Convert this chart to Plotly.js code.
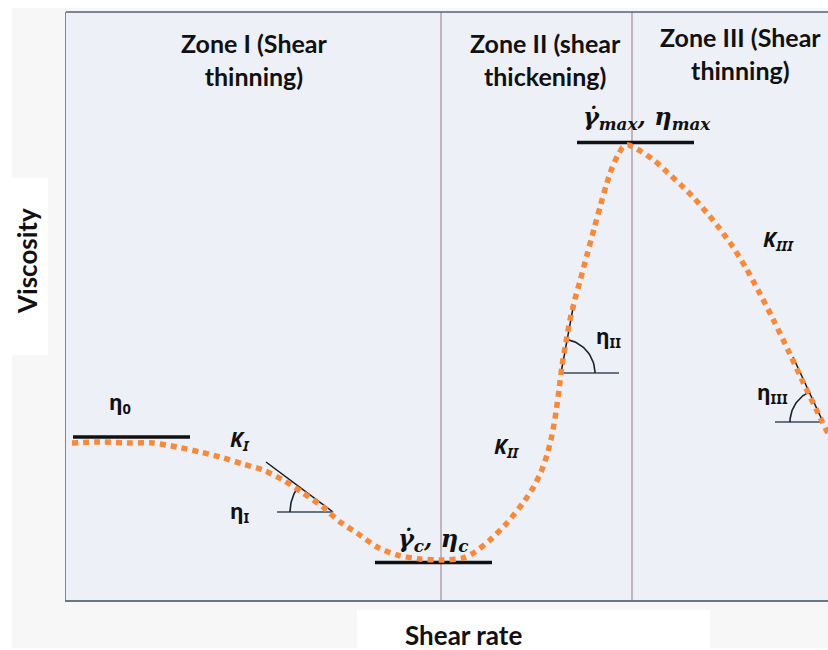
<!DOCTYPE html>
<html>
<head>
<meta charset="utf-8">
<script src="https://cdn.plot.ly/plotly-3.0.1.min.js"></script>
<style>html,body{margin:0;padding:0;background:#fff;}#chart{width:828px;height:650px;}</style>
</head>
<body>
<div id="chart"></div>
<script>
// Viscosity curve (arbitrary units): shear rate vs viscosity
const shearRate = [0.6, 3.4, 6.4, 8.7, 11.1, 13.4, 15.4, 17.7, 19.7, 21.7, 23.7, 25.7, 27.4, 29.1, 31.1, 33.1, 35.4, 37.7, 39.7, 40.9, 42.4, 44.1, 45.7, 46.7, 47.5, 48.1, 48.6, 49.0, 49.3, 49.6, 50.0, 50.4, 50.9, 51.4, 52.1, 52.8, 53.4, 54.0, 54.6, 55.2, 55.7, 56.2, 57.6, 58.9, 60.2, 61.5, 62.8, 64.1, 65.4, 66.7, 68.0, 69.2, 70.7, 72.2, 73.7, 75.2, 76.9];
const viscosity = [15.7, 15.8, 15.7, 15.7, 15.3, 14.8, 14.3, 13.6, 13.0, 12.0, 10.7, 9.3, 7.8, 6.7, 5.3, 4.5, 4.1, 4.0, 4.2, 4.8, 6.0, 7.7, 9.7, 11.2, 12.8, 14.5, 16.5, 18.8, 21.0, 23.4, 25.8, 28.0, 30.1, 31.9, 34.5, 37.1, 39.3, 41.4, 43.2, 44.5, 45.3, 45.5, 44.8, 43.9, 42.7, 41.5, 40.2, 38.7, 37.1, 35.3, 33.2, 31.0, 28.1, 25.0, 21.8, 18.7, 15.2];

// Zone boundaries (shear rate)
const zoneBounds = [37.5, 56.6];
const zoneLabels = ["Zone I (Shear<br>thinning)", "Zone II (shear<br>thickening)", "Zone III (Shear<br>thinning)"];
const zoneLabelX = [18.8, 47.9, 67.4];
const zoneLabelY = [54.05, 54.05, 54.65];

// Plateau markers: [x start, x end, level]
const plateauNames = ["η0", "γc", "γmax"];
const plateauX0 = [0.7, 30.9, 51.1];
const plateauX1 = [12.4, 42.6, 62.8];
const plateauY = [16.3, 3.75, 45.75];

// Slope triangles: vertex, tangent end, base end, arc radius
const slopeVertexX = [26.7, 49.5, 75.7];
const slopeVertexY = [8.8, 22.7, 17.8];
const slopeTanX = [20.0, 50.7, 72.7];
const slopeTanY = [13.8, 29.2, 24.3];
const slopeBaseX = [21.1, 55.3, 70.9];
const slopeArcR = [4.3, 3.4, 3.3];

// Text labels
const labelText = ["η<sub>0</sub>", "<i>K<sub>I</sub></i>", "η<sub>I</sub>", "<i>K<sub>II</sub></i>", "η<sub>II</sub>", "<i>K<sub>III</sub></i>", "η<sub>III</sub>"];
const labelX = [5.4, 17.4, 17.4, 44.1, 54.2, 71.2, 70.6];
const labelY = [19.7, 16.0, 8.8, 15.3, 26.3, 36.0, 20.7];
const mathText = ["<i>γ\u0307<sub>max</sub>, η<sub>max</sub></i>", "<i>γ\u0307<sub>c</sub>, η<sub>c</sub></i>"];
const mathX = [58.1, 36.7];
const mathY = [48.2, 6.0];

const traces = [];
for (let i = 0; i < plateauX0.length; i++) {
  traces.push({x:[plateauX0[i], plateauX1[i]], y:[plateauY[i], plateauY[i]], mode:'lines',
    line:{color:'#111111', width:3.5}, hoverinfo:'skip', showlegend:false, name:plateauNames[i]});
}
for (let i = 0; i < slopeVertexX.length; i++) {
  const vx = slopeVertexX[i], vy = slopeVertexY[i];
  traces.push({x:[slopeTanX[i], vx], y:[slopeTanY[i], vy], mode:'lines', line:{color:'#1a1a1a', width:1.5}, hoverinfo:'skip', showlegend:false});
  traces.push({x:[vx, slopeBaseX[i]], y:[vy, vy], mode:'lines', line:{color:'#3b4a5c', width:1.6}, hoverinfo:'skip', showlegend:false});
  const aTan = Math.atan2(slopeTanY[i]-vy, slopeTanX[i]-vx);
  const aBase = Math.atan2(0, slopeBaseX[i]-vx);
  const ax = [], ay = [];
  for (let k = 0; k <= 30; k++) {
    const a = aTan + (aBase - aTan) * k / 30;
    ax.push(vx + slopeArcR[i]*Math.cos(a));
    ay.push(vy + slopeArcR[i]*Math.sin(a));
  }
  traces.push({x:ax, y:ay, mode:'lines', line:{color:'#1a2232', width:1.6}, hoverinfo:'skip', showlegend:false});
}
traces.push({x:shearRate, y:viscosity, mode:'lines', name:'Viscosity',
  line:{color:'#f7893a', width:5.5, dash:'6px,5px', shape:'spline', smoothing:0.7}, showlegend:false});

const shapes = [
  {type:'rect', xref:'paper', yref:'paper', x0:-0.0709, x1:1.01, y0:-0.0816, y1:1.0068, fillcolor:'#f7f7f8', line:{width:0}, layer:'below'},
  {type:'rect', xref:'paper', yref:'paper', x0:-0.0709, x1:-0.0236, y0:0.4167, y1:0.7177, fillcolor:'#ffffff', line:{width:0}, layer:'below'},
  {type:'rect', xref:'paper', yref:'paper', x0:0.3819, x1:0.8451, y0:-0.1, y1:-0.017, fillcolor:'#ffffff', line:{width:0}, layer:'below'},
  {type:'rect', xref:'paper', yref:'paper', x0:0, x1:1, y0:0, y1:1, fillcolor:'#eef0f8', line:{width:0}, layer:'below'},
  {type:'line', xref:'paper', yref:'paper', x0:0, x1:1, y0:1, y1:1, line:{color:'#58606c', width:1.5}}
];
zoneBounds.forEach(b => shapes.push({type:'line', xref:'x', yref:'paper', x0:b, x1:b, y0:0, y1:1, line:{color:'#a8969e', width:1.3}, layer:'below'}));

const annotations = [];
const base = {showarrow:false, xanchor:'center', yanchor:'middle'};
zoneLabels.forEach((t, i) => annotations.push(Object.assign({text:t, x:zoneLabelX[i], y:zoneLabelY[i], xref:'x', yref:'y',
  font:{family:'Lato, "Noto Sans", sans-serif', size:25, color:'#111', weight:'bold'}, align:'center'}, base)));
labelText.forEach((t, i) => annotations.push(Object.assign({text:t, x:labelX[i], y:labelY[i], xref:'x', yref:'y',
  font:{family:'"Noto Sans", sans-serif', size:21, color:'#111', weight:'bold'}}, base)));
mathText.forEach((t, i) => annotations.push(Object.assign({text:t, x:mathX[i], y:mathY[i], xref:'x', yref:'y',
  font:{family:'"DejaVu Serif", serif', size:24, color:'#111', weight:'bold'}}, base)));
annotations.push(Object.assign({text:'Shear rate', xref:'paper', yref:'paper', x:0.521, y:-0.0595,
  font:{family:'Lato, "Noto Sans", sans-serif', size:26, color:'#111', weight:'bold'}}, base));
annotations.push(Object.assign({text:'Viscosity', xref:'paper', yref:'paper', x:-0.0512, y:0.5765, textangle:-90,
  font:{family:'Lato, "Noto Sans", sans-serif', size:26, color:'#111', weight:'bold'}}, base));

const layout = {
  width:828, height:650,
  margin:{l:66, r:0, t:12, b:50},
  paper_bgcolor:'#ffffff', plot_bgcolor:'rgba(0,0,0,0)',
  xaxis:{range:[0,76.2], showline:true, linecolor:'#6d7582', linewidth:1.5, showgrid:false, zeroline:false, showticklabels:false, ticks:'', fixedrange:true},
  yaxis:{range:[0,58.8], showline:true, linecolor:'#a07a7a', linewidth:1.5, showgrid:false, zeroline:false, showticklabels:false, ticks:'', fixedrange:true},
  shapes:shapes, annotations:annotations, showlegend:false
};
Plotly.newPlot('chart', traces, layout, {displayModeBar:false, staticPlot:true});
</script>
</body>
</html>
